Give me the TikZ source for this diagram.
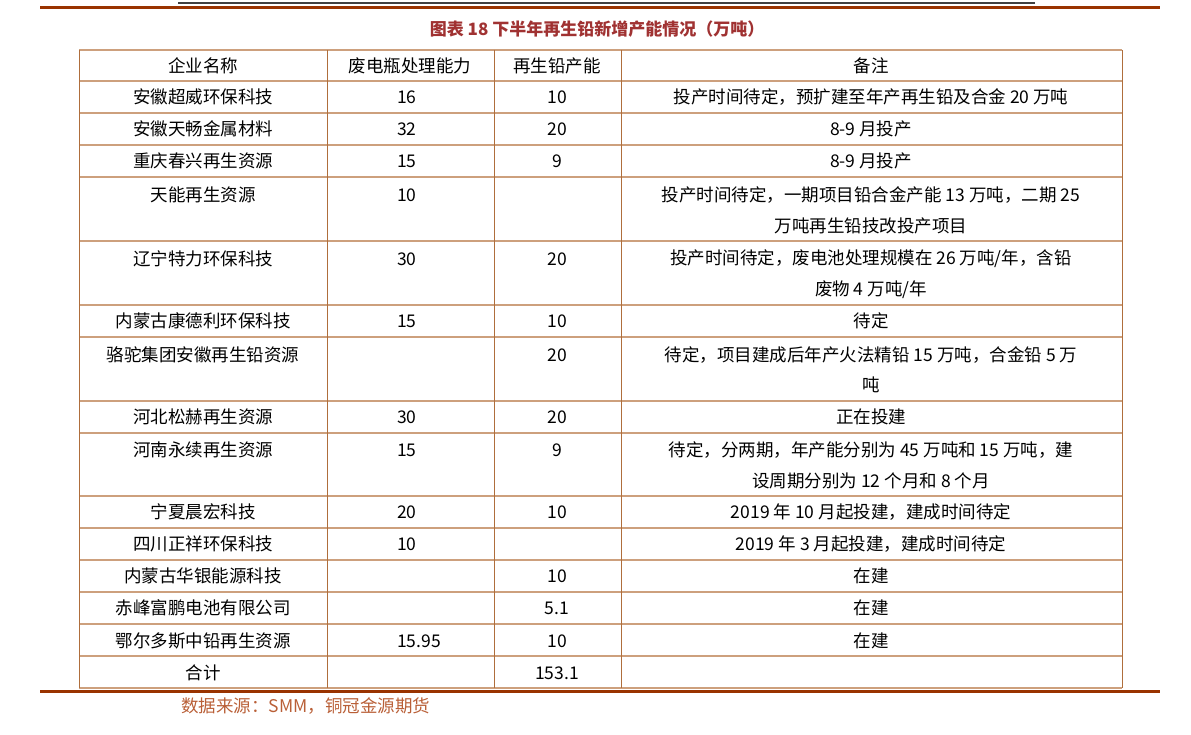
\documentclass[tikz,border=0pt]{standalone}
\usepackage{fontspec}
\setmainfont{Noto Sans CJK SC}
\definecolor{rulered}{RGB}{153,51,0}
\definecolor{titlered}{RGB}{160,50,50}
\definecolor{gridtan}{RGB}{205,160,125}
\definecolor{gridbrown}{RGB}{175,110,60}
\definecolor{srcbrown}{RGB}{185,95,55}
\tikzset{
    cell/.style={font=\fontsize{17.5}{19}\selectfont, inner sep=0pt},
    hline/.style={gridtan, line width=1.2pt},
    vline/.style={gridbrown, line width=0.8pt},
}
\begin{document}
\begin{tikzpicture}[x=1pt, y=-1pt]
    \useasboundingbox (0,0) rectangle (1191,735);
    % rules above and below
    \draw[black!75, line width=1.5pt] (178,3) -- (1035,3);
    \draw[rulered, line width=3pt] (40,8) -- (1160,8);
    \draw[rulered, line width=3pt] (40,691) -- (1160,691);
    \node[cell, titlered, font=\fontsize{17}{19}\selectfont\bfseries] (title)
        at (597,29) {图表 18\ 下半年再生铅新增产能情况（万吨）};
    % grid
    \foreach \y in {50,81,113,145,177,241,305,337,401,433,496,528,560,592,624,656,688}
        \draw[hline] (79,\y) -- (1122,\y);
    \foreach \x in {79,327,494,621,1122}
        \draw[vline] (\x,50) -- (\x,688);
    % header
    \foreach \x/\t in {203/企业名称, 410/废电瓶处理能力, 557/再生铅产能, 871/备注}
        \node[cell] at (\x,66) {\t};
    % first text line of each row
    \foreach \y/\n/\a/\b/\c in {
        97/安徽超威环保科技/16/10/{投产时间待定，预扩建至年产再生铅及合金 20 万吨},
        129/安徽天畅金属材料/32/20/{8-9 月投产},
        161/重庆春兴再生资源/15/9/{8-9 月投产},
        195/天能再生资源/10//{投产时间待定，一期项目铅合金产能 13 万吨，二期 25},
        259/辽宁特力环保科技/30/20/{投产时间待定，废电池处理规模在 26 万吨/年，含铅},
        321/内蒙古康德利环保科技/15/10/{待定},
        355/骆驼集团安徽再生铅资源//20/{待定，项目建成后年产火法精铅 15 万吨，合金铅 5 万},
        417/河北松赫再生资源/30/20/{正在投建},
        450/河南永续再生资源/15/9/{待定，分两期，年产能分别为 45 万吨和 15 万吨，建},
        512/宁夏晨宏科技/20/10/{2019 年 10 月起投建，建成时间待定},
        544/四川正祥环保科技/10//{2019 年 3 月起投建，建成时间待定},
        576/内蒙古华银能源科技//10/{在建},
        608/赤峰富鹏电池有限公司//5.1/{在建},
        641/鄂尔多斯中铅再生资源/15.95/10/{在建},
        673/合计//153.1/{}} {
        \node[cell] at (203,\y) {\n};
        \node[cell, anchor=west] at (397,\y) {\a};
        \node[cell] at (557,\y) {\b};
        \node[cell] at (871,\y) {\c};
    }
    % second text lines
    \node[cell] at (871,226) {万吨再生铅技改投产项目};
    \node[cell] at (871,290) {废物 4 万吨/年};
    \node[cell] at (871,385) {吨};
    \node[cell] at (871,481) {设周期分别为 12 个月和 8 个月};
    % source
    \node[cell, srcbrown, anchor=west] (source) at (181,706) {数据来源：SMM，铜冠金源期货};
\end{tikzpicture}
\end{document}
